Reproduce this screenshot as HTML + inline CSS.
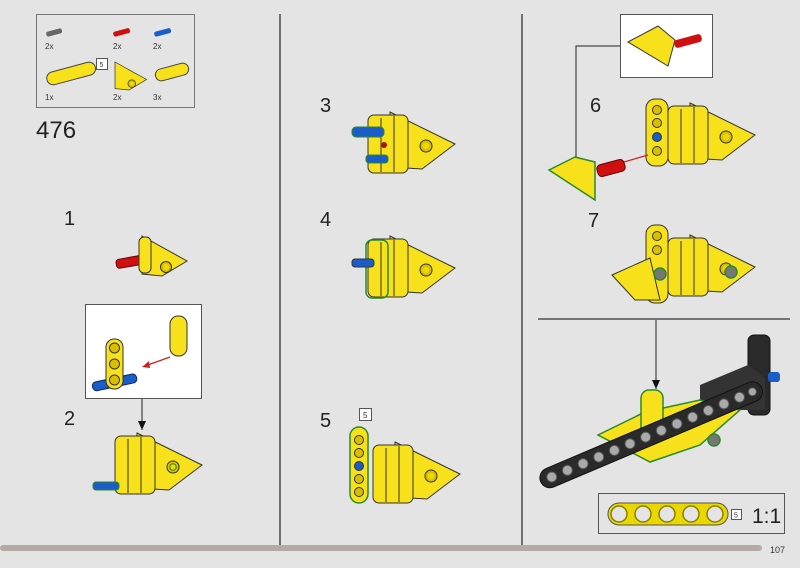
<!DOCTYPE html>
<html><head><meta charset="utf-8"><style>
html,body{margin:0;padding:0;background:#e4e4e4;}
svg{display:block;font-family:"Liberation Sans",sans-serif;}
</style></head><body>
<svg width="800" height="568" viewBox="0 0 800 568" xmlns="http://www.w3.org/2000/svg">
<defs>
<marker id="ab" markerWidth="10" markerHeight="10" refX="9" refY="4" orient="auto" markerUnits="userSpaceOnUse"><path d="M0,0 L9,4 L0,8 z" fill="#111"/></marker>
<g id="tri">
<polygon points="0,0 45,25 20,40 0,38" fill="#f7e11a" stroke="#333" stroke-width="1"/>
<circle cx="24" cy="31" r="5.5" fill="#d8c000" stroke="#333"/>
<circle cx="24" cy="31" r="3" fill="#f2d800"/>
</g>
<g id="body">
<polygon points="40,0 105,32 72,57 40,55" fill="#f7e11a" stroke="#333"/>
<circle cx="76" cy="34" r="6" fill="#d8c000" stroke="#333"/>
<circle cx="76" cy="34" r="3.2" fill="#f2d800"/>
<rect x="18" y="3" width="40" height="58" rx="6" fill="#f7e11a" stroke="#333"/>
<line x1="31" y1="6" x2="31" y2="60" stroke="#333"/>
<line x1="44" y1="4" x2="44" y2="60" stroke="#333"/>
</g>
<g id="beam3v">
<rect x="0" y="0" width="17" height="50" rx="8" fill="#f7e11a" stroke="#333"/>
<circle cx="8.5" cy="9" r="5" fill="#d8c000" stroke="#333"/>
<circle cx="8.5" cy="25" r="5" fill="#d8c000" stroke="#333"/>
<circle cx="8.5" cy="41" r="5" fill="#d8c000" stroke="#333"/>
</g>
</defs>

<line x1="280" y1="14" x2="280" y2="545" stroke="#333" stroke-width="1.3"/>
<line x1="522" y1="14" x2="522" y2="545" stroke="#333" stroke-width="1.3"/>
<line x1="538" y1="319" x2="790" y2="319" stroke="#333" stroke-width="1.3"/>
<rect x="0" y="545" width="762" height="6" rx="3" fill="#b3aaa6"/>
<text x="770" y="553" font-size="9" fill="#333">107</text>

<rect x="36.5" y="14.5" width="158" height="93" fill="#e4e4e4" stroke="#777"/>
<rect x="46" y="30" width="16" height="5" rx="2" fill="#666" transform="rotate(-15 54 32)"/>
<rect x="113" y="30" width="17" height="5" rx="2" fill="#d01010" transform="rotate(-15 121 32)"/>
<rect x="154" y="30" width="17" height="5" rx="2" fill="#1a5cc8" transform="rotate(-15 162 32)"/>
<text x="45" y="49" font-size="8" fill="#333">2x</text>
<text x="113" y="49" font-size="8" fill="#333">2x</text>
<text x="153" y="49" font-size="8" fill="#333">2x</text>
<rect x="96.5" y="58.5" width="11" height="11" fill="#fff" stroke="#555"/>
<text x="99.5" y="67" font-size="7" fill="#333">5</text>
<rect x="46" y="67" width="50" height="13" rx="6.5" fill="#f7e11a" stroke="#444" transform="rotate(-15 71 73)"/>
<g transform="translate(115,62) scale(0.7)"><use href="#tri"/></g>
<rect x="155" y="66" width="34" height="12" rx="6" fill="#f7e11a" stroke="#444" transform="rotate(-15 172 72)"/>
<text x="45" y="100" font-size="8" fill="#333">1x</text>
<text x="113" y="100" font-size="8" fill="#333">2x</text>
<text x="153" y="100" font-size="8" fill="#333">3x</text>
<text x="36" y="138" font-size="24" fill="#222">476</text>

<text x="64" y="225" font-size="20" fill="#222">1</text>
<rect x="116" y="257" width="32" height="9" rx="3" fill="#d01010" stroke="#600" transform="rotate(-10 132 261)"/>
<g transform="translate(142,236)"><use href="#tri"/></g>
<rect x="139" y="237" width="12" height="36" rx="5" fill="#f7e11a" stroke="#333"/>

<rect x="85.5" y="304.5" width="116" height="94" fill="#fff" stroke="#555"/>
<rect x="92" y="378" width="45" height="9" rx="4" fill="#1a5cc8" stroke="#0b2a66" transform="rotate(-12 114 382)"/>
<g transform="translate(106,339)"><use href="#beam3v"/></g>
<rect x="170" y="316" width="17" height="40" rx="8" fill="#f7e11a" stroke="#333"/>
<line x1="170" y1="357" x2="145" y2="366" stroke="#d02020" stroke-width="1.2"/>
<polygon points="142,367 149,361 150,368" fill="#d02020"/>
<line x1="142" y1="399" x2="142" y2="430" stroke="#222" marker-end="url(#ab)"/>
<text x="64" y="425" font-size="20" fill="#222">2</text>
<g transform="translate(97,433)"><use href="#body" stroke="#2a8a2a"/></g>
<rect x="93" y="482" width="26" height="8" rx="3" fill="#1a5cc8" stroke="#2a8a2a"/>

<text x="320" y="112" font-size="20" fill="#222">3</text>
<g transform="translate(350,112)"><use href="#body"/></g>
<rect x="352" y="127" width="32" height="10" rx="4" fill="#1a5cc8" stroke="#2a8a2a"/>
<rect x="366" y="155" width="22" height="8" rx="3" fill="#1a5cc8" stroke="#2a8a2a"/>
<circle cx="384" cy="145" r="3" fill="#b01010"/>

<text x="320" y="226" font-size="20" fill="#222">4</text>
<g transform="translate(350,236)"><use href="#body"/></g>
<rect x="366" y="240" width="22" height="58" rx="6" fill="none" stroke="#2a8a2a" stroke-width="1.5"/>
<rect x="352" y="259" width="22" height="8" rx="3" fill="#1a5cc8" stroke="#333"/>

<rect x="359.5" y="408.5" width="12" height="12" fill="#fff" stroke="#555"/>
<text x="363" y="418" font-size="8" fill="#333">5</text>
<text x="320" y="427" font-size="20" fill="#222">5</text>
<g transform="translate(355,442)"><use href="#body"/></g>
<rect x="350" y="427" width="18" height="76" rx="9" fill="#f7e11a" stroke="#2a8a2a" stroke-width="1.5"/>
<circle cx="359" cy="440" r="4.5" fill="#d8c000" stroke="#333"/>
<circle cx="359" cy="453" r="4.5" fill="#d8c000" stroke="#333"/>
<circle cx="359" cy="466" r="4.5" fill="#1a5cc8" stroke="#333"/>
<circle cx="359" cy="479" r="4.5" fill="#d8c000" stroke="#333"/>
<circle cx="359" cy="492" r="4.5" fill="#d8c000" stroke="#333"/>

<rect x="620.5" y="14.5" width="92" height="63" fill="#fff" stroke="#555"/>
<polygon points="628,42 658,26 675,40 668,66" fill="#f7e11a" stroke="#333"/>
<rect x="674" y="37" width="28" height="8" rx="3" fill="#d01010" transform="rotate(-15 688 41)"/>
<polyline points="620,46 576,46 576,168" fill="none" stroke="#222" marker-end="url(#ab)"/>
<text x="590" y="112" font-size="20" fill="#222">6</text>
<g transform="translate(650,103)"><use href="#body"/></g>
<rect x="646" y="99" width="22" height="67" rx="9" fill="#f7e11a" stroke="#333"/>
<circle cx="657" cy="110" r="4.5" fill="#d8c000" stroke="#333"/>
<circle cx="657" cy="123" r="4.5" fill="#d8c000" stroke="#333"/>
<circle cx="657" cy="137" r="4.5" fill="#1a5cc8" stroke="#333"/>
<circle cx="657" cy="151" r="4.5" fill="#d8c000" stroke="#333"/>
<polygon points="549,170 575,157 595,162 595,200" fill="#f7e11a" stroke="#2a8a2a" stroke-width="1.5"/>
<rect x="597" y="162" width="28" height="12" rx="4" fill="#d01010" stroke="#600" transform="rotate(-15 611 168)"/>
<line x1="624" y1="162" x2="648" y2="155" stroke="#d02020" stroke-width="1.2"/>

<text x="588" y="227" font-size="20" fill="#222">7</text>
<g transform="translate(650,235)"><use href="#body"/></g>
<rect x="646" y="225" width="22" height="78" rx="9" fill="#f7e11a" stroke="#333"/>
<polygon points="612,275 650,258 660,300 635,300" fill="#f7e11a" stroke="#333"/>
<circle cx="657" cy="236" r="4.5" fill="#d8c000" stroke="#333"/>
<circle cx="657" cy="250" r="4.5" fill="#d8c000" stroke="#333"/>
<circle cx="660" cy="274" r="6" fill="#777" stroke="#2a8a2a" stroke-width="1.5"/>
<circle cx="731" cy="272" r="6" fill="#777" stroke="#2a8a2a" stroke-width="1.5"/>

<line x1="656" y1="320" x2="656" y2="389" stroke="#222" marker-end="url(#ab)"/>
<rect x="748" y="335" width="22" height="80" rx="6" fill="#2a2a2a" stroke="#111"/>
<polygon points="700,385 748,365 765,378 765,410 700,410" fill="#333"/>
<rect x="768" y="372" width="12" height="10" rx="3" fill="#1a5cc8"/>
<polygon points="598,435 645,412 700,400 740,410 700,445 650,462" fill="#f7e11a" stroke="#2a8a2a" stroke-width="1.5"/>
<rect x="641" y="390" width="22" height="50" rx="8" fill="#f7e11a" stroke="#2a8a2a" stroke-width="1.5"/>
<g transform="rotate(-23 650 432)">
<rect x="530" y="425" width="240" height="20" rx="10" fill="#2a2a2a" stroke="#111"/>
<g fill="#aaa" stroke="#555">
<circle cx="542" cy="435" r="5"/><circle cx="559" cy="435" r="5"/><circle cx="576" cy="435" r="5"/><circle cx="593" cy="435" r="5"/><circle cx="610" cy="435" r="5"/><circle cx="627" cy="435" r="5"/><circle cx="644" cy="435" r="5"/><circle cx="661" cy="435" r="5"/><circle cx="678" cy="435" r="5"/><circle cx="695" cy="435" r="5"/><circle cx="712" cy="435" r="5"/><circle cx="729" cy="435" r="5"/><circle cx="746" cy="435" r="5"/><circle cx="760" cy="435" r="4"/>
</g></g>
<circle cx="714" cy="440" r="6" fill="#777" stroke="#2a8a2a" stroke-width="1.5"/>

<rect x="598.5" y="493.5" width="186" height="40" fill="#e4e4e4" stroke="#555"/>
<rect x="608" y="503" width="120" height="22" rx="11" fill="#e8d800" stroke="#555"/>
<g fill="#e4e4e4" stroke="#8a8000" stroke-width="1.5">
<circle cx="619" cy="514" r="8"/><circle cx="643" cy="514" r="8"/><circle cx="667" cy="514" r="8"/><circle cx="691" cy="514" r="8"/><circle cx="715" cy="514" r="8"/>
</g>
<rect x="731.5" y="509.5" width="10" height="10" fill="#fff" stroke="#555"/>
<text x="734" y="517.5" font-size="7" fill="#333">5</text>
<text x="752" y="523" font-size="21" fill="#222">1:1</text>
</svg>
</body></html>
